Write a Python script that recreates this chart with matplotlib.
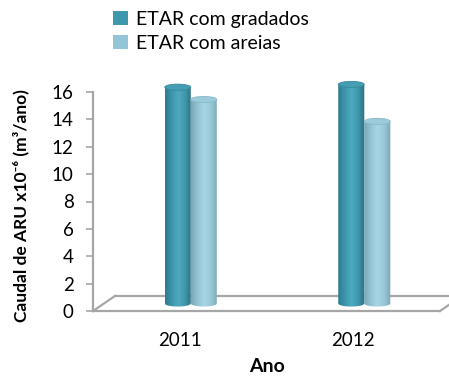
import matplotlib.pyplot as plt
import numpy as np
import matplotlib.colors as mcolors
from matplotlib.path import Path
from matplotlib.patches import PathPatch, Ellipse, Patch

plt.rcParams['font.family'] = ['Lato', 'DejaVu Sans']

years = ['2011', '2012']
gradados = [15.8, 16.0]
areias = [14.9, 13.3]
series_names = ['ETAR com gradados', 'ETAR com areias']
yticks = [0, 2, 4, 6, 8, 10, 12, 14, 16]

# cores das séries (cilindros com sombreado horizontal)
dark_stops = ['#2c7b8e', '#3d95aa', '#4eaac0', '#3f96ab', '#2a6e7f']
light_stops = ['#78a6b6', '#94c4d4', '#a8d6e5', '#98c8d8', '#79a6b5']
dark_cmap = mcolors.LinearSegmentedColormap.from_list('dark', dark_stops)
light_cmap = mcolors.LinearSegmentedColormap.from_list('light', light_stops)

fig = plt.figure(figsize=(4.49, 3.76), dpi=100)
W, H = 449, 376
ymax = 17.5
px_per_unit = 219 / 16
ax = fig.add_axes([93 / W, (H - 311) / H, 347 / W, ymax * px_per_unit / H])

# profundidade do "chão" 3D em unidades de dados
depth_x = 0.127
depth_y = 1.1
bar_w = 0.15
ell_h = 0.45


def cylinder(ax, xc, value, cmap):
    base = depth_y / 2
    x0 = xc + depth_x / 2 - bar_w / 2
    x1 = x0 + bar_w
    cx = (x0 + x1) / 2
    top = base + value
    t = np.linspace(np.pi, 2 * np.pi, 40)
    pts = [(x0, top), (x0, base)]
    pts += list(zip(cx + bar_w / 2 * np.cos(t), base + ell_h / 2 * np.sin(t)))
    pts += [(x1, top), (x0, top)]
    codes = [Path.MOVETO] + [Path.LINETO] * (len(pts) - 2) + [Path.CLOSEPOLY]
    clip = PathPatch(Path(pts, codes), facecolor='none', edgecolor='none',
                     transform=ax.transData)
    ax.add_patch(clip)
    grad = np.linspace(0, 1, 256).reshape(1, -1)
    im = ax.imshow(grad, cmap=cmap, aspect='auto', interpolation='bilinear',
                   extent=(x0, x1, base - ell_h, top), zorder=3)
    im.set_clip_path(clip)
    ax.add_patch(Ellipse((cx, top), bar_w, ell_h, facecolor=cmap(0.35),
                         edgecolor=cmap(0.15), linewidth=0.6, zorder=4))


for i in range(len(years)):
    cylinder(ax, i - 0.075, gradados[i], dark_cmap)
    cylinder(ax, i + 0.075, areias[i], light_cmap)

# chão 3D
floor_kw = dict(color='#a6a6a6', linewidth=1.6, clip_on=False, zorder=1)
ax.plot([-0.5, 1.5], [0, 0], **floor_kw)
ax.plot([-0.5 + depth_x, 1.5 + depth_x], [depth_y, depth_y], **floor_kw)
ax.plot([-0.5, -0.5 + depth_x], [0, depth_y], **floor_kw)
ax.plot([1.5, 1.5 + depth_x], [0, depth_y], **floor_kw)

ax.set_xlim(-0.5, 1.5)
ax.set_ylim(0, ymax)
ax.set_yticks(yticks)
ax.set_xticks(range(len(years)))
ax.set_xticklabels(years)
for s in ['top', 'right', 'bottom']:
    ax.spines[s].set_visible(False)
ax.spines['left'].set_color('#a6a6a6')
ax.spines['left'].set_linewidth(1.6)
ax.spines['left'].set_bounds(0, 16)
ax.tick_params(axis='y', colors='#a6a6a6', length=5, width=1.2, labelsize=13.5,
               labelcolor='black', pad=9)
ax.tick_params(axis='x', length=0, labelsize=13.5, pad=15)

fig.text(267 / W, 1 - 367 / H, 'Ano', fontsize=14, fontweight='bold',
         ha='center', va='center')
fig.text(21 / W, 1 - 206 / H, 'Caudal de ARU x10⁻⁶ (m³/ano)', fontsize=12.5,
         fontweight='bold', rotation=90, ha='center', va='center')

handles = [Patch(facecolor='#3d98ad'), Patch(facecolor='#92c5d6')]
fig.legend(handles, series_names, loc='upper left', frameon=False,
           bbox_to_anchor=(113 / W, 1 - 11 / H), fontsize=14,
           handlelength=0.75, handleheight=0.75, handletextpad=0.45,
           labelspacing=0.35, borderpad=0, borderaxespad=0)

fig.savefig('out.png', dpi=100)
